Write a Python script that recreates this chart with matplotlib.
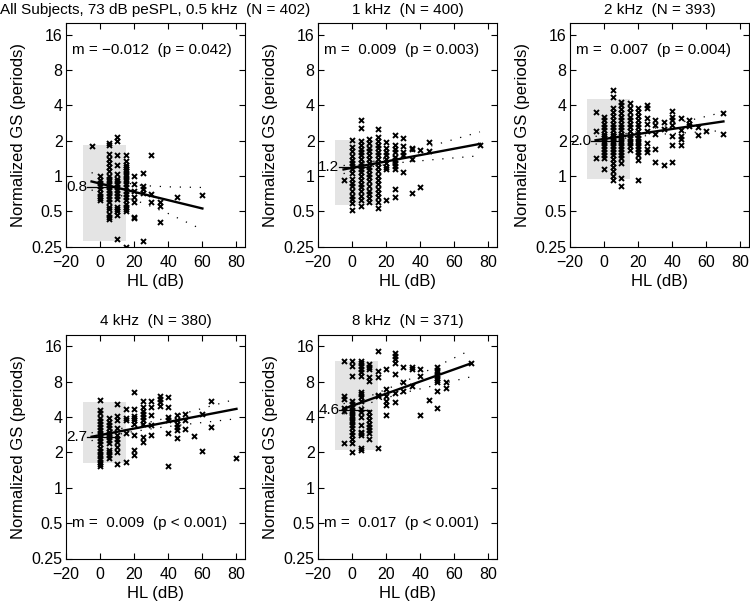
import matplotlib
matplotlib.use("Agg")
import matplotlib.pyplot as plt
from matplotlib.patches import Rectangle
from matplotlib.ticker import NullLocator

plt.rcParams['font.family'] = ['Liberation Sans', 'DejaVu Sans']
plt.rcParams['font.size'] = 11

# ---------------- data ----------------
titles = ["All Subjects, 73 dB peSPL, 0.5 kHz  (N = 402)", "1 kHz  (N = 400)",
          "2 kHz  (N = 393)", "4 kHz  (N = 380)", "8 kHz  (N = 371)"]
stats_text = ["m = \u22120.012  (p = 0.042)", "m =  0.009  (p = 0.003)",
              "m =  0.007  (p = 0.004)", "m =  0.009  (p < 0.001)",
              "m =  0.017  (p < 0.001)"]
median_vals = [0.8, 1.2, 2.0, 2.7, 4.6]
median_labels = ["0.8", "1.2", "2.0", "2.7", "4.6"]
# normal-hearing range (grey box): HL -10..15, GS low..high
box_hl = (-10, 15)
box_lo = [0.28, 0.57, 0.94, 1.64, 2.1]
box_hi = [1.85, 2.04, 4.5, 5.4, 12.1]

# regression line end points
fit_x = [(-5, 60), (-5, 75), (-5, 70), (-5, 80), (-5, 70)]
fit_y = [(0.90, 0.53), (1.14, 1.88), (2.02, 2.92), (2.72, 4.70), (4.70, 11.5)]

# confidence bands
band_x = [[-5, 10, 25, 40, 60], [-5, 12, 30, 50, 75], [-5, 15, 35, 55, 70],
          [-5, 15, 35, 55, 80], [-5, 12, 30, 50, 70]]
band_up = [[1.07, 0.90, 0.83, 0.81, 0.80], [1.23, 1.33, 1.54, 1.87, 2.38],
           [2.18, 2.32, 2.65, 3.10, 3.50], [2.94, 3.24, 3.80, 4.53, 5.71],
           [5.2, 6.17, 7.93, 10.9, 15.0]]
band_lo = [[0.76, 0.70, 0.59, 0.48, 0.35], [1.05, 1.21, 1.31, 1.39, 1.49],
           [1.87, 2.14, 2.28, 2.37, 2.44], [2.52, 2.94, 3.26, 3.53, 3.87],
           [4.25, 5.37, 6.43, 7.53, 8.83]]

# scatter: HL (dB) -> list of normalized GS values
gs_05k = {
    -5: [1.8],
    0: [1.0, 0.93, 0.87, 0.82, 0.77, 0.72, 0.68, 0.65, 0.62],
    5: [1.9, 1.85, 1.53, 1.4, 1.3, 1.2, 1.1, 1.0, 0.95, 0.9, 0.85, 0.8, 0.76,
        0.72, 0.68, 0.64, 0.6, 0.55, 0.52, 0.48, 0.45, 0.43],
    10: [2.15, 2.0, 1.5, 1.25, 1.05, 0.95, 0.9, 0.85, 0.8, 0.76, 0.72, 0.68,
         0.64, 0.55, 0.52, 0.5, 0.47, 0.29],
    15: [1.5, 1.35, 1.25, 1.2, 1.15, 1.1, 1.05, 1.0, 0.95, 0.9, 0.85, 0.8, 0.75,
         0.7, 0.66, 0.62, 0.58, 0.55, 0.52, 0.5, 0.25],
    20: [1.0, 0.86, 0.75, 0.66, 0.6, 0.45, 0.44],
    25: [1.07, 0.82, 0.78, 0.72, 0.28],
    30: [1.5, 0.7, 0.6],
    35: [0.6, 0.56, 0.41],
    45: [0.66],
    60: [0.69],
}
gs_1k = {
    -5: [0.92],
    0: [2.02, 1.78, 1.62, 1.47, 1.38, 1.29, 1.21, 1.14, 1.07, 0.94, 0.88, 0.82,
        0.75, 0.68, 0.64, 0.59, 0.51],
    5: [3.02, 2.59, 2.0, 1.85, 1.7, 1.6, 1.5, 1.4, 1.3, 1.22, 1.15, 1.08, 1.0,
        0.93, 0.86, 0.8, 0.74, 0.68, 0.62, 0.56],
    10: [2.05, 1.9, 1.75, 1.62, 1.5, 1.4, 1.3, 1.2, 1.12, 1.05, 0.98, 0.9, 0.82,
         0.75, 0.7, 0.65, 0.6],
    15: [2.5, 2.15, 2.0, 1.85, 1.72, 1.6, 1.5, 1.4, 1.3, 1.2, 1.1, 1.0, 0.92,
         0.85, 0.78, 0.72, 0.66, 0.6, 0.53],
    20: [1.97, 1.75, 1.6, 1.5, 1.4, 1.3, 1.2, 1.14, 0.63],
    25: [2.25, 1.85, 1.7, 1.6, 1.45, 1.38, 1.3, 1.22, 1.15, 0.78, 0.67],
    30: [2.1, 1.8, 1.6, 1.5, 1.08],
    35: [1.75, 1.7, 1.4, 0.72],
    40: [1.67, 0.8],
    45: [1.95, 1.65],
    75: [1.85],
}
gs_2k = {
    -5: [3.5, 2.4, 1.43],
    0: [3.2, 3.0, 2.8, 2.6, 2.45, 2.3, 2.2, 2.1, 2.0, 1.9, 1.8, 1.7, 1.6, 1.5,
        1.42, 1.15],
    5: [5.4, 4.75, 3.8, 3.5, 3.25, 3.0, 2.8, 2.6, 2.45, 2.3, 2.2, 2.1, 2.0, 1.9,
        1.8, 1.7, 1.6, 1.5, 1.4, 1.3, 1.2, 1.1, 1.0, 0.93],
    10: [4.3, 4.0, 3.7, 3.45, 3.2, 3.0, 2.8, 2.6, 2.45, 2.3, 2.2, 2.1, 2.0, 1.9,
         1.8, 1.7, 1.6, 1.5, 1.42, 1.3, 0.97, 0.82],
    15: [4.2, 3.8, 3.5, 3.2, 3.0, 2.8, 2.6, 2.4, 2.25, 2.1, 2.0, 1.9, 1.8, 1.68],
    20: [3.8, 3.5, 3.25, 3.0, 2.8, 2.6, 2.4, 2.25, 2.1, 2.0, 1.9, 1.8, 1.7, 1.6,
         1.5, 1.38, 0.92],
    25: [4.0, 3.77, 3.1, 2.75, 2.4, 1.9, 1.7, 1.61],
    30: [3.0, 2.7, 2.3, 1.7, 1.33],
    35: [2.9, 2.5, 1.24],
    40: [3.6, 3.2, 3.0, 2.7, 2.2, 1.84, 1.33],
    45: [3.1, 2.45, 2.2, 2.05, 1.84],
    50: [3.0, 2.8, 2.65],
    55: [2.6, 2.25],
    60: [2.4],
    70: [3.45, 2.3],
}
gs_4k = {
    0: [5.6, 4.6, 4.3, 3.9, 3.7, 3.5, 3.3, 3.1, 2.95, 2.8, 2.65, 2.5, 2.35, 2.2,
        2.05, 1.95, 1.85, 1.75, 1.65, 1.58, 1.52],
    5: [3.9, 3.6, 3.4, 3.2, 3.0, 2.85, 2.7, 2.55, 2.4, 2.1, 2.0, 1.9, 1.8],
    10: [5.2, 4.1, 3.75, 3.2, 2.8, 2.6, 2.45, 2.23, 2.03, 1.6],
    15: [4.7, 3.9, 3.75, 2.9, 1.67],
    20: [6.5, 4.7, 4.1, 3.9, 3.75, 3.5, 2.8, 2.08, 1.9],
    25: [5.5, 4.85, 4.55, 4.26, 4.0, 3.75, 3.52, 2.72, 2.46],
    30: [5.5, 4.85, 4.13, 3.41, 2.8],
    35: [6.1, 5.7, 5.34, 5.0],
    40: [5.9, 4.85, 4.0, 3.75, 2.9, 1.52],
    45: [4.2, 3.75, 3.52, 3.29, 3.09, 2.63],
    50: [4.26, 3.75, 3.19],
    55: [2.74],
    60: [4.26, 2.06],
    65: [5.5, 3.29],
    80: [1.81],
}
gs_8k = {
    -5: [12.1, 6.0, 5.7, 4.8, 4.5, 2.4],
    0: [12.1, 10.9, 9.0, 5.5, 5.2, 4.9, 4.6, 4.4, 4.2, 4.0, 3.8, 3.6, 3.4, 3.2,
        3.0, 2.8, 2.6, 2.4, 2.0],
    5: [12.1, 11.5, 10.9, 10.3, 9.6, 9.0, 6.5, 6.3, 5.9, 5.5, 4.7, 4.4, 4.0,
        3.4, 3.0, 2.9, 2.8, 2.2, 2.1],
    10: [11.3, 10.6, 10.3, 8.7, 8.1, 4.4, 4.1, 3.8, 3.5, 3.3, 3.1, 2.9, 2.6],
    15: [14.5, 9.9, 8.7, 6.2, 6.1, 2.2],
    20: [10.3, 6.9, 6.0, 5.5, 5.1, 4.2],
    25: [14.0, 13.3, 12.5, 11.6, 9.3, 6.4, 5.4],
    30: [10.6, 7.9, 6.7],
    35: [10.6, 10.3, 7.3],
    40: [10.3, 9.0, 4.2],
    45: [5.6],
    50: [10.6, 10.1, 9.6, 9.1, 8.6, 8.2, 7.9, 6.7, 4.8],
    55: [7.9, 7.1],
    70: [11.6],
}
scatter_data = [gs_05k, gs_1k, gs_2k, gs_4k, gs_8k]

y_ticks = [0.25, 0.5, 1, 2, 4, 8, 16]
y_ticklabels = ["0.25", "0.5", "1", "2", "4", "8", "16"]
x_ticks = [-20, 0, 20, 40, 60, 80]

# ---------------- layout ----------------
W, H = 750, 603
col_left = [66, 318, 570]
ax_w = 179
row_top = [23.3, 335]
ax_h = 223.5
slots = [(0, 0), (0, 1), (0, 2), (1, 0), (1, 1)]
stats_y = [11.8, 11.8, 11.8, 0.5, 0.5]

fig = plt.figure(figsize=(W / 100, H / 100), dpi=100)

for i in range(5):
    r, c = slots[i]
    left = col_left[c] / W
    bottom = (H - row_top[r] - ax_h) / H
    ax = fig.add_axes([left, bottom, ax_w / W, ax_h / H])
    ax.set_yscale('log', base=2)
    ax.set_xlim(-20, 85)
    ax.set_ylim(0.25, 20)

    ax.add_patch(Rectangle((box_hl[0], box_lo[i]), box_hl[1] - box_hl[0],
                           box_hi[i] - box_lo[i], facecolor='#e4e4e4',
                           edgecolor='none', zorder=0))

    xs, ys = [], []
    for hl, vals in scatter_data[i].items():
        for v in vals:
            xs.append(hl)
            ys.append(v)
    ax.plot(xs, ys, linestyle='none', marker='x', color='black',
            markersize=3.6, markeredgewidth=1.4, zorder=3)

    ax.plot(fit_x[i], fit_y[i], color='black', lw=1.7, zorder=4)
    ax.plot(band_x[i], band_up[i], color='black', lw=0.9,
            linestyle=(0, (1, 7)), zorder=2)
    ax.plot(band_x[i], band_lo[i], color='black', lw=0.9,
            linestyle=(0, (1, 7)), zorder=2)

    ax.plot([-7.5, 10], [median_vals[i]] * 2, color='black', lw=0.9, zorder=2)
    ax.text(-7.5, median_vals[i], median_labels[i], ha='right', va='center',
            fontsize=11, zorder=5)

    ax.text(-16.7, stats_y[i], stats_text[i], ha='left', va='center',
            fontsize=11)

    ax.set_yticks(y_ticks)
    ax.set_yticklabels(y_ticklabels)
    ax.yaxis.set_minor_locator(NullLocator())
    ax.set_xticks(x_ticks)
    ax.tick_params(direction='in', top=True, right=True, length=4, width=0.8,
                   labelsize=11.5)
    ax.tick_params(axis='y', pad=2.5)
    ax.tick_params(axis='x', pad=6)
    for s in ax.spines.values():
        s.set_linewidth(0.8)
    ax.set_xlabel('HL (dB)', fontsize=12, labelpad=3)
    ax.set_ylabel('Normalized GS (periods)', fontsize=12, labelpad=4)
    ax.set_title(titles[i], fontsize=11, pad=7)

fig.savefig('out.png', dpi=100)
